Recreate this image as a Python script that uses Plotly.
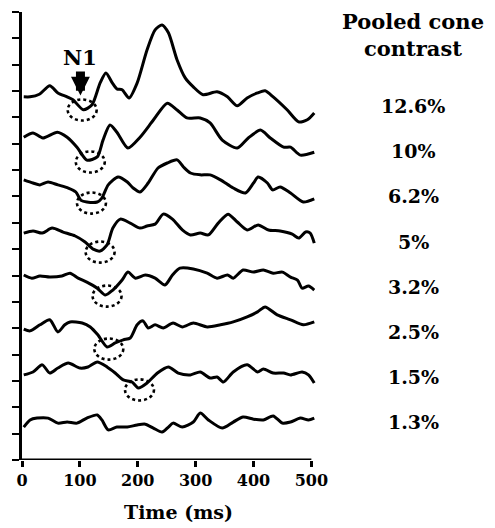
import plotly.graph_objects as go

# ---- data (time in ms, amplitude in axis units relative to each trace baseline) ----
labels = ["12.6%", "10%", "6.2%", "5%", "3.2%", "2.5%", "1.5%", "1.3%"]
offsets = [13.78, 12.33, 10.59, 8.65, 6.98, 5.05, 3.34, 1.44]

t_126 = [3, 14, 30, 48, 62, 78, 88, 106, 121, 135, 145, 156, 164, 173, 185, 199, 216, 230, 242, 253, 268, 282, 296, 313, 337, 355, 372, 389, 407, 420, 434, 458, 478, 493, 505]
v_126 = [0, 0, 0.1, 0.42, 0.15, 0, -0.11, -0.49, -0.30, 0.53, 0.91, 0.53, 0.30, 0.27, -0.04, 0.53, 1.78, 2.54, 2.73, 2.43, 1.40, 0.72, 0.38, 0.08, 0.19, 0, -0.34, -0.04, 0.15, 0.23, 0, -0.49, -0.95, -0.87, -0.61]

t_10 = [3, 19, 36, 61, 78, 95, 112, 130, 140, 152, 164, 183, 204, 227, 251, 268, 285, 308, 325, 346, 372, 391, 412, 429, 452, 464, 481, 505]
v_10 = [-0.08, 0.08, -0.11, 0.11, -0.08, -0.46, -0.95, -0.83, -0.19, 0.38, 0.11, -0.49, -0.08, 0.57, 1.21, 0.95, 0.65, 0.65, 0.46, -0.19, -0.49, -0.11, 0.19, -0.11, -0.46, -0.46, -0.76, -0.65]

t_62 = [3, 19, 31, 45, 62, 80, 93, 102, 112, 130, 138, 149, 166, 182, 192, 204, 218, 235, 251, 268, 279, 291, 308, 325, 343, 365, 386, 400, 408, 424, 433, 446, 464, 486, 505]
v_62 = [0.04, -0.08, -0.15, -0.04, -0.15, -0.27, -0.42, -0.74, -0.80, -0.80, -0.65, -0.15, 0.15, -0.04, -0.27, -0.42, -0.08, 0.49, 0.68, 0.80, 0.53, 0.30, 0.23, 0.23, 0.04, -0.27, -0.46, -0.08, 0.15, -0.08, -0.34, -0.23, -0.46, -0.80, -0.68]

t_5 = [3, 19, 35, 52, 71, 92, 109, 123, 135, 147, 157, 170, 187, 204, 216, 230, 244, 260, 277, 291, 308, 322, 339, 356, 372, 389, 408, 426, 446, 467, 478, 490, 498, 505]
v_5 = [-0.04, 0.04, -0.04, 0.15, 0, -0.15, -0.38, -0.65, -0.72, -0.49, 0.15, 0.49, 0.34, 0.15, 0.23, 0.30, 0.68, 0.49, 0.08, -0.11, -0.04, -0.11, 0.34, 0.68, 0.38, 0.08, 0.27, 0.08, 0.04, -0.08, -0.23, 0, -0.04, -0.42]

t_32 = [3, 17, 31, 48, 69, 83, 97, 112, 130, 144, 157, 173, 183, 196, 213, 230, 247, 260, 273, 296, 320, 337, 355, 365, 382, 400, 417, 434, 450, 464, 476, 484, 495, 505]
v_32 = [0.04, -0.08, 0, -0.04, 0, 0.11, -0.08, -0.23, -0.46, -0.72, -0.53, -0.15, 0.15, -0.08, 0.04, -0.08, -0.34, 0.04, 0.30, 0.27, 0.11, -0.08, 0.04, -0.08, 0.23, 0.15, 0.23, 0.11, 0.15, -0.04, -0.15, -0.46, -0.38, -0.53]

t_25 = [3, 14, 31, 48, 62, 74, 83, 104, 118, 131, 147, 161, 175, 187, 199, 209, 218, 230, 244, 261, 277, 296, 320, 343, 365, 389, 407, 420, 441, 464, 486, 505]
v_25 = [-0.08, -0.15, 0.08, 0.27, -0.19, 0.08, 0.19, 0.15, 0, -0.30, -0.76, -0.61, -0.49, -0.42, 0.08, 0.23, -0.04, 0.08, -0.04, 0.15, 0, 0.15, 0, 0.08, 0.19, 0.38, 0.57, 0.76, 0.46, 0.27, 0.08, 0.19]

t_15 = [3, 19, 35, 48, 62, 80, 100, 114, 130, 147, 161, 175, 190, 201, 216, 234, 253, 270, 291, 308, 325, 337, 348, 365, 389, 407, 417, 434, 452, 464, 484, 495, 505]
v_15 = [-0.11, 0, 0.27, -0.04, 0.15, 0.34, 0.15, 0.19, 0.38, 0.19, -0.04, -0.30, -0.38, -0.61, -0.42, -0.04, 0.19, -0.04, -0.11, 0, -0.23, -0.19, -0.38, 0, 0.27, 0, 0.11, -0.04, -0.04, -0.11, 0, -0.11, -0.42]

t_13 = [3, 14, 26, 45, 62, 78, 95, 112, 130, 138, 149, 164, 182, 199, 213, 227, 242, 253, 261, 277, 296, 308, 322, 346, 365, 382, 400, 417, 434, 450, 464, 481, 495, 505]
v_13 = [-0.19, 0.08, 0.15, 0.15, -0.04, 0, -0.04, 0.15, 0.27, 0.08, -0.30, -0.19, -0.19, -0.11, -0.08, -0.23, -0.38, -0.19, -0.04, -0.19, 0, 0.34, 0.08, -0.23, 0, 0.19, 0.11, 0.08, 0.23, -0.04, 0, 0.15, 0.08, 0.15]

times = [t_126, t_10, t_62, t_5, t_32, t_25, t_15, t_13]
values = [v_126, v_10, v_62, v_5, v_32, v_25, v_15, v_13]

# N1 trough latency (ms) and amplitude (relative to baseline) for traces 1..7
n1_latency = [104, 118, 120, 135, 147, 150, 203]
n1_amp = [-0.50, -1.02, -0.84, -0.76, -0.76, -0.84, -0.68]

xtick_vals = [0, 100, 200, 300, 400, 500]

SERIF = "DejaVu Serif"

fig = go.Figure()
for t, v, off in zip(times, values, offsets):
    fig.add_trace(go.Scatter(
        x=t, y=[off + a for a in v], mode="lines",
        line=dict(color="black", width=3, shape="spline", smoothing=0.7),
        showlegend=False, hoverinfo="skip"))

# dotted ellipses around N1
shapes = []
for lat, amp, off in zip(n1_latency, n1_amp, offsets):
    cy = off + amp
    shapes.append(dict(type="circle", xref="x", yref="y",
                       x0=lat - 25, x1=lat + 25, y0=cy - 0.4, y1=cy + 0.4,
                       line=dict(color="black", width=2.6, dash="dot")))
# x axis line from 0 to 500
shapes.append(dict(type="line", xref="x", yref="y", x0=0, x1=xtick_vals[-1], y0=0, y1=0,
                   line=dict(color="black", width=3)))

annotations = []
# N1 arrow
annotations.append(dict(x=n1_latency[0] - 3, y=offsets[0] + 0.05, xref="x", yref="y",
                        text="<b>N1</b>", showarrow=True, arrowhead=2, arrowsize=0.42,
                        arrowwidth=9, arrowcolor="black", ax=0, ay=-38,
                        font=dict(family=SERIF, size=21, color="black")))
# title
annotations.append(dict(x=1.33, y=0.949, xref="paper", yref="paper",
                        xanchor="center", yanchor="middle",
                        text="<b>Pooled cone<br>contrast</b>", showarrow=False,
                        font=dict(family=SERIF, size=21, color="black"), align="center"))
for i, lab in enumerate(labels):
    annotations.append(dict(x=1.33, y=13.43 - 1.714 * i, xref="paper", yref="y",
                            xanchor="center", yanchor="middle",
                            text="<b>%s</b>" % lab, showarrow=False,
                            font=dict(family=SERIF, size=19, color="black")))
annotations.append(dict(x=0.531, y=-0.116, xref="paper", yref="paper",
                        xanchor="center", yanchor="middle", text="<b>Time (ms)</b>",
                        showarrow=False, font=dict(family=SERIF, size=19, color="black")))

fig.update_layout(
    width=495, height=528,
    margin=dict(l=22, r=179, t=12, b=68),
    paper_bgcolor="white", plot_bgcolor="white",
    shapes=shapes, annotations=annotations,
    xaxis=dict(range=[0, 508], showgrid=False, zeroline=False, showline=False,
               tickmode="array", tickvals=xtick_vals, ticktext=[str(v) for v in xtick_vals],
               ticks="outside", ticklen=6, tickwidth=3, tickcolor="black",
               tickfont=dict(family=SERIF, size=16, color="black", weight="bold")),
    yaxis=dict(range=[0, 17], showgrid=False, zeroline=False, showline=True,
               linecolor="black", linewidth=3, tickmode="linear", tick0=0, dtick=1,
               ticks="outside", ticklen=7, tickwidth=2, tickcolor="black",
               showticklabels=False),
)

fig.write_html("out.html")
